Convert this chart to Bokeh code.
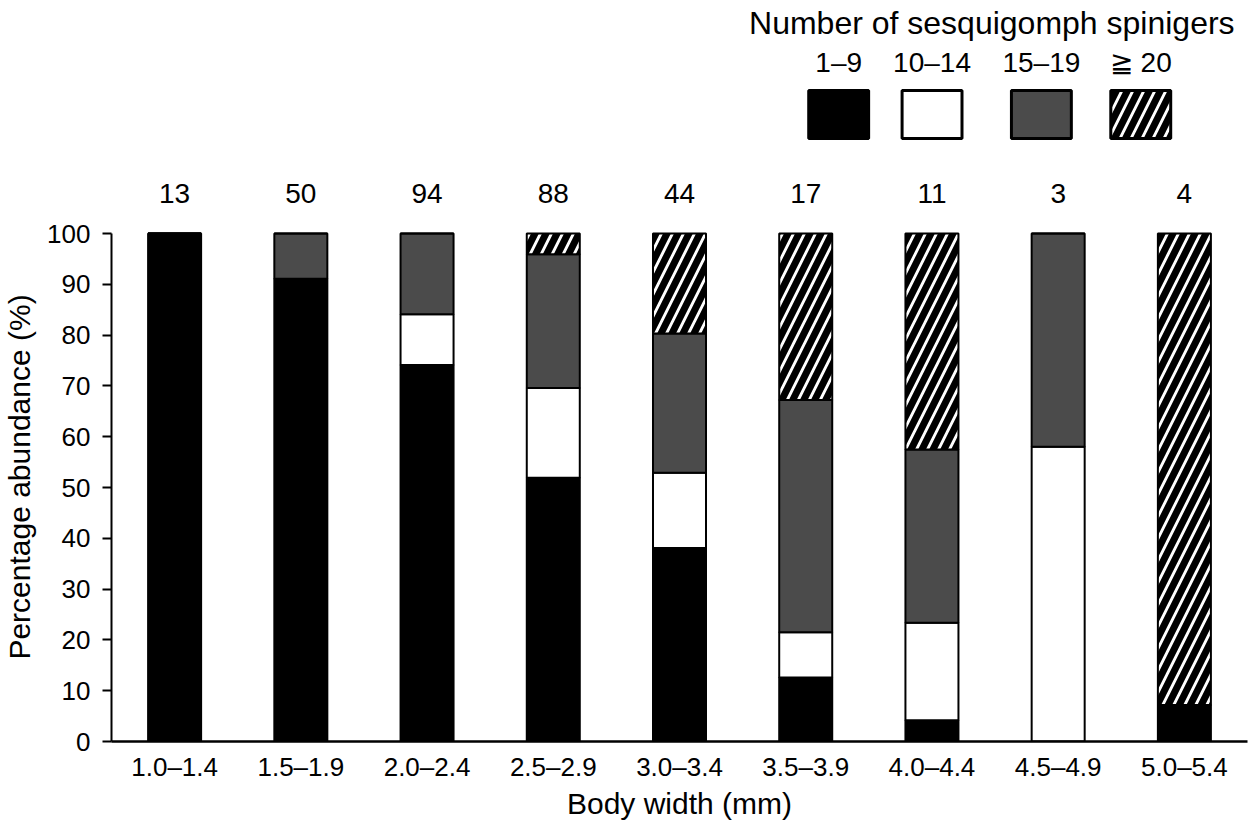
from bokeh.plotting import figure
from bokeh.layouts import column
from bokeh.models import Range1d, FixedTicker, ColumnDataSource
from bokeh.core.properties import value
from bokeh.embed import file_html
from bokeh.resources import INLINE

# ---------------- data ----------------
categories = ["1.0–1.4", "1.5–1.9", "2.0–2.4", "2.5–2.9", "3.0–3.4",
              "3.5–3.9", "4.0–4.4", "4.5–4.9", "5.0–5.4"]
counts = [13, 50, 94, 88, 44, 17, 11, 3, 4]
series_labels = ["1–9", "10–14", "15–19", "≧ 20"]
s_1_9 = [100, 91.1, 74.1, 51.9, 38.1, 12.6, 4.2, 0, 7.2]
s_10_14 = [0, 0, 10.0, 17.7, 14.8, 8.9, 19.2, 58.0, 0]
s_15_19 = [0, 8.9, 15.9, 26.3, 27.4, 45.7, 34.1, 42.0, 0]
s_20 = [0, 0, 0, 4.1, 19.7, 32.8, 42.5, 0, 92.8]
y_ticks = list(range(0, 101, 10))
x_title = "Body width (mm)"
y_title = "Percentage abundance (%)"
legend_title = "Number of sesquigomph spinigers"

# ---------------- styles / layout ----------------
FONT = "Liberation Sans"
fills = ["black", "white", "#4b4b4b", "white"]
hatches = [" ", " ", " ", "right_diagonal_line"]
HATCH_SCALE = 22
HATCH_WEIGHT = 7

W, H = 1254, 829
LEFT, RIGHT = 111, 7
AXIS_Y = 741          # pixel row of y = 0
PX_PER_UNIT = 5.08    # pixels per percentage point
SPLIT = 212           # pixel row where the plot panel starts
BOTTOM = H - AXIS_Y


def dy(py):
    return (AXIS_Y - py) / PX_PER_UNIT


def dx(px):
    return 1 + (px - 174.5) / 126.4


xs = list(range(1, len(categories) + 1))
keys = ["a", "b", "c", "d"]
src = ColumnDataSource(dict(x=xs, a=s_1_9, b=s_10_14, c=s_15_19, d=s_20,
                            n=[str(c) for c in counts],
                            ny=[dy(193)] * len(xs)))
x_range = Range1d(0.5, len(categories) + 0.5)

# ---------------- top panel: sample sizes + legend ----------------
top = figure(width=W, height=SPLIT, output_backend="svg", toolbar_location=None,
             x_range=x_range, y_range=Range1d(dy(SPLIT), dy(0)),
             x_axis_location=None, y_axis_location=None,
             min_border_left=LEFT, min_border_right=RIGHT,
             min_border_top=0, min_border_bottom=0, tools="")
top.outline_line_color = None
top.grid.visible = False

top.text(x="x", y="ny", text="n", source=src, text_align="center",
         text_baseline="middle", text_font=value(FONT), text_font_size="28px",
         text_color="black")

sw_centers = [839.5, 933, 1042.5, 1142]
sw_w = 60 / 126.4
leg = ColumnDataSource(dict(x=[dx(c) for c in sw_centers],
                            y=[(dy(90) + dy(138)) / 2] * 4,
                            ty=[dy(62)] * 4,
                            lab=series_labels,
                            fill=fills, hatch=hatches))
top.rect(x="x", y="y", width=sw_w, height=dy(90) - dy(138), source=leg,
         fill_color="fill", line_color="black", line_width=3,
         hatch_pattern="hatch", hatch_color="black",
         hatch_scale=HATCH_SCALE, hatch_weight=HATCH_WEIGHT)
top.text(x="x", y="ty", text="lab", source=leg, text_align="center",
         text_baseline="middle", text_font=value(FONT), text_font_size="28px")
top.text(x=[dx(1236)], y=[dy(22)], text=[legend_title],
         text_align="right", text_baseline="middle",
         text_font=value(FONT), text_font_size="32px")

# ---------------- main panel: stacked bars ----------------
p = figure(width=W, height=H - SPLIT, output_backend="svg",
           toolbar_location=None,
           x_range=x_range, y_range=Range1d(0, dy(SPLIT)),
           min_border_left=LEFT, min_border_right=RIGHT,
           min_border_top=0, min_border_bottom=BOTTOM, tools="")
p.outline_line_color = None
p.grid.visible = False

p.vbar_stack(keys, x="x", width=0.42, source=src,
             fill_color=fills, line_color="black", line_width=2,
             hatch_pattern=hatches, hatch_color="black",
             hatch_scale=HATCH_SCALE, hatch_weight=HATCH_WEIGHT)

ya = p.yaxis[0]
ya.bounds = (0, 100)
ya.ticker = FixedTicker(ticks=y_ticks)
ya.minor_tick_line_color = None
ya.major_tick_out = 9
ya.major_tick_in = 0
ya.axis_line_width = 2
ya.major_tick_line_width = 2
ya.axis_line_color = "black"
ya.major_tick_line_color = "black"
ya.major_label_text_font = FONT
ya.major_label_text_font_size = "26px"
ya.major_label_text_color = "black"
ya.major_label_standoff = 12
ya.axis_label = y_title
ya.axis_label_text_font = FONT
ya.axis_label_text_font_size = "30px"
ya.axis_label_text_font_style = "normal"
ya.axis_label_text_color = "black"
ya.axis_label_standoff = 8

xa = p.xaxis[0]
xa.ticker = FixedTicker(ticks=xs)
xa.major_label_overrides = {i + 1: c for i, c in enumerate(categories)}
xa.minor_tick_line_color = None
xa.major_tick_line_color = None
xa.major_tick_out = 0
xa.major_tick_in = 0
xa.axis_line_width = 2.5
xa.axis_line_color = "black"
xa.major_label_text_font = FONT
xa.major_label_text_font_size = "26px"
xa.major_label_text_color = "black"
xa.major_label_standoff = 10
xa.axis_label = x_title
xa.axis_label_text_font = FONT
xa.axis_label_text_font_size = "30px"
xa.axis_label_text_font_style = "normal"
xa.axis_label_text_color = "black"
xa.axis_label_standoff = 2

layout = column(top, p, spacing=0)
open("out.html", "w").write(file_html(layout, INLINE))
